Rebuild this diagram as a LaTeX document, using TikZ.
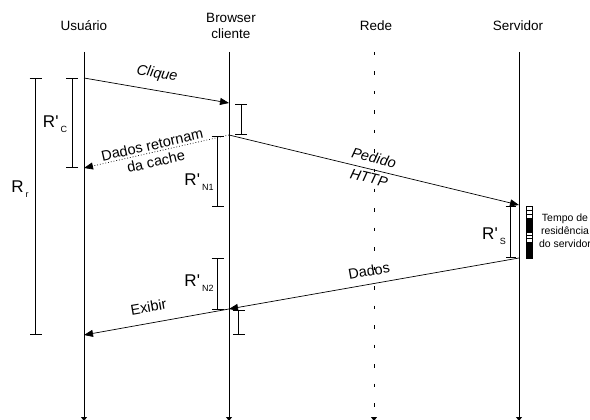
\documentclass[tikz,border=0pt]{standalone}
\usepackage{fontspec}
\setmainfont{Liberation Sans}
\usetikzlibrary{arrows.meta}

% response-time label: R, optional prime, lowered subscript
\newcommand\rtime[2]{R#1\kern2pt\raisebox{-5pt}{\fontsize{9}{9}\selectfont #2}}
\newcommand\rprime{\textquotesingle}

\begin{document}
\begin{tikzpicture}[x=1pt,y=-1pt,
  lifeline/.style={line width=0.8pt,-{Triangle[length=4pt,width=6pt]}},
  netline/.style={lifeline,dash pattern=on 3.5pt off 16pt},
  msg/.style={line width=0.7pt,-{Triangle[length=9pt,width=7pt]}},
  cachemsg/.style={msg,dash pattern=on 0.8pt off 2pt},
  interval/.style={line width=0.7pt,{Bar[width=12pt]}-{Bar[width=12pt]}},
  shortint/.style={line width=0.7pt,{Bar[width=10pt]}-{Bar[width=10pt]}},
  header/.style={font=\fontsize{13.5}{16}\selectfont,inner sep=0pt},
  msglabel/.style={font=\fontsize{14.5}{17}\selectfont,inner sep=0pt},
  rlabel/.style={font=\fontsize{17}{19}\selectfont,inner sep=0pt},
  note/.style={font=\fontsize{10.5}{13}\selectfont,align=center,inner sep=0pt}]
\useasboundingbox (0,0) rectangle (590,420);

% column headers
\node[header] (hU) at (84,26) {Usuário};
\node[header,align=center] (hB) at (231,26) {Browser\\cliente};
\node[header] (hN) at (376,26) {Rede};
\node[header] (hS) at (518,26) {Servidor};

% lifelines
\coordinate (u0) at (84,52);  \coordinate (u1) at (84,421);
\coordinate (b0) at (229,52); \coordinate (b1) at (229,421);
\coordinate (n0) at (374,52); \coordinate (n1) at (374,421);
\coordinate (s0) at (519,52); \coordinate (s1) at (519,421);
\draw[lifeline] (u0) -- (u1);
\draw[lifeline] (b0) -- (b1);
\draw[netline] (n0) -- (n1);
\draw[lifeline] (s0) -- (s1);

% message end points on the lifelines
\coordinate (uClick) at (84,78);
\coordinate (bClick) at (229,103);
\coordinate (bReq)   at (229,135);
\coordinate (uCache) at (84,168);
\coordinate (sReq)   at (519,205);
\coordinate (sResp)  at (519,258);
\coordinate (bResp)  at (229,309);
\coordinate (uShow)  at (84,335);

% messages
\draw[msg] (uClick) -- (bClick);
\node[msglabel,rotate=-9.8] (lClick) at (157,74) {\itshape Clique};

\draw[cachemsg] (bReq) -- (uCache);
\node[msglabel,rotate=12.8,align=center] (lCache) at (154,153) {Dados retornam\\da cache};

\draw[msg] (bReq) -- (sReq);
\node[msglabel,rotate=-13.6] (lReq1) at (374,158) {\itshape Pedido};
\node[msglabel,rotate=-13.6] (lReq2) at (369,178) {\itshape HTTP};

\draw[msg] (sResp) -- (bResp);
\node[msglabel,rotate=10.2] (lResp) at (369,271) {Dados};

\draw[msg] (bResp) -- (uShow);
\node[msglabel,rotate=9.8] (lShow) at (148.5,307) {Exibir};

% response-time intervals
\coordinate (rrT) at (35.5,78);  \coordinate (rrB) at (35.5,335);
\draw[interval] (rrT) -- (rrB);
\node[rlabel] (lRr) at (20,189) {\rtime{}{r}};

\coordinate (rcT) at (72,78);  \coordinate (rcB) at (72,168);
\draw[interval] (rcT) -- (rcB);
\node[rlabel] (lRc) at (55,124) {\rtime{\rprime}{C}};

\coordinate (bbT) at (241,104); \coordinate (bbB) at (241,135);
\draw[interval] (bbT) -- (bbB);

\coordinate (n1T) at (217.5,136); \coordinate (n1B) at (217.5,207);
\draw[interval] (n1T) -- (n1B);
\node[rlabel] (lRn1) at (199,182) {\rtime{\rprime}{N1}};

\coordinate (n2T) at (217.5,258); \coordinate (n2B) at (217.5,310);
\draw[interval] (n2T) -- (n2B);
\node[rlabel] (lRn2) at (199,283) {\rtime{\rprime}{N2}};

\coordinate (bcT) at (238.5,310); \coordinate (bcB) at (238.5,335);
\draw[interval] (bcT) -- (bcB);

\coordinate (rsT) at (510.5,206); \coordinate (rsB) at (510.5,258);
\draw[shortint] (rsT) -- (rsB);
\node[rlabel] (lRs) at (494,236) {\rtime{\rprime}{S}};

% server residence bar
\fill[black] (526,218) rectangle (532,232);
\fill[black] (526,242) rectangle (532,258);
\draw[line width=0.6pt] (526,206) rectangle (532,258);
\foreach \yy in {210,214,218,232,235.3,238.6,242}
  \draw[line width=0.6pt] (526,\yy) -- (532,\yy);
\node[note] (lRes) at (565,231) {Tempo de\\residência\\do servidor};
\end{tikzpicture}
\end{document}
